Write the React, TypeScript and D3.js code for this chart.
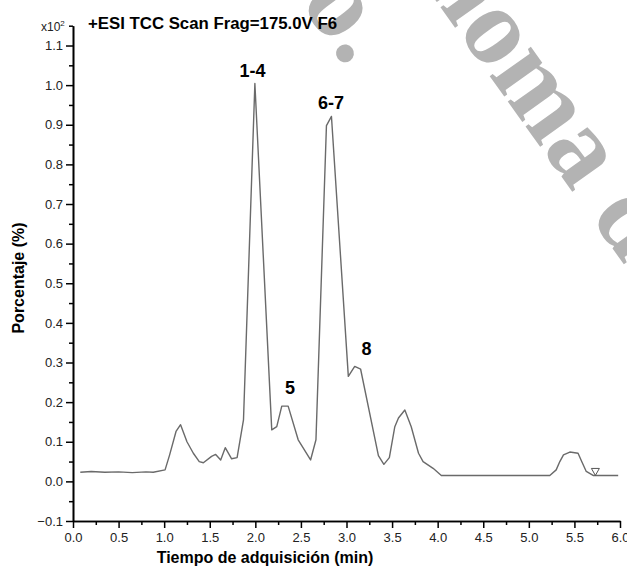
import React, { useRef, useEffect } from 'react';
import * as d3 from 'd3';

// chromatogram trace (time in min, intensity x10^2)
const times = [0.08, 0.2, 0.35, 0.5, 0.65, 0.8, 0.88, 1.01, 1.06, 1.13, 1.18, 1.25, 1.32, 1.385, 1.43, 1.52, 1.565, 1.62, 1.67, 1.74, 1.8, 1.87, 1.995, 2.18, 2.235, 2.29, 2.36, 2.47, 2.606, 2.665, 2.78, 2.835, 3.02, 3.09, 3.155, 3.35, 3.41, 3.47, 3.53, 3.57, 3.64, 3.71, 3.79, 3.84, 3.95, 4.04, 5.23, 5.3, 5.34, 5.38, 5.45, 5.54, 5.58, 5.63, 5.705, 5.98];
const values = [0.023, 0.025, 0.023, 0.024, 0.022, 0.024, 0.023, 0.029, 0.067, 0.126, 0.143, 0.1, 0.071, 0.05, 0.047, 0.063, 0.068, 0.054, 0.085, 0.057, 0.06, 0.155, 1.004, 0.13, 0.138, 0.19, 0.19, 0.105, 0.054, 0.105, 0.898, 0.921, 0.265, 0.29, 0.283, 0.065, 0.043, 0.06, 0.138, 0.16, 0.18, 0.138, 0.071, 0.05, 0.033, 0.015, 0.015, 0.029, 0.05, 0.067, 0.074, 0.071, 0.05, 0.025, 0.015, 0.015];

const peakLabels = ['1-4', '5', '6-7', '8'];
const peakTimes = [1.97, 2.38, 2.83, 3.22];
const peakValues = [1.02, 0.22, 0.94, 0.32];

const markerTime = 5.73;
const markerValue = 0.015;

const xMajor = d3.range(0, 6.01, 0.5);
const xMinor = d3.range(0.25, 6, 0.5);
const yMajor = d3.range(-0.1, 1.15, 0.1);
const yMinor = d3.range(-0.05, 1.2, 0.1);

const FONT = '"Liberation Sans", Arial, sans-serif';

const App: React.FC = () => {
  const svgRef = useRef<SVGSVGElement>(null);
  const width = 627;
  const height = 570;

  useEffect(() => {
    if (!svgRef.current) return;
    const svg = d3.select(svgRef.current);
    svg.selectAll('*').remove();

    const x = d3.scaleLinear().domain([0, 6]).range([73, 620]);
    const y = d3.scaleLinear().domain([-0.1, 1.15]).range([521, 25.7]);

    // watermark (behind everything)
    const wm = svg.append('g')
      .attr('fill', '#b3b3b3')
      .attr('font-family', '"Liberation Serif", "Times New Roman", serif')
      .attr('font-weight', 700)
      .attr('font-size', '110px');

    wm.append('text')
      .attr('transform', 'translate(347,69) rotate(54.5)')
      .attr('text-anchor', 'end')
      .text('o.');

    wm.append('text')
      .attr('transform', 'translate(456,29) rotate(54.5)')
      .attr('text-anchor', 'end')
      .text('Autón');

    wm.append('text')
      .attr('transform', 'translate(456,29) rotate(54.5)')
      .text('oma de');

    // trace
    const line = d3.line<number>()
      .x((d, i) => x(times[i]))
      .y(d => y(d));

    svg.append('path')
      .datum(values)
      .attr('d', line)
      .attr('fill', 'none')
      .attr('stroke', '#6a6a6a')
      .attr('stroke-width', 1.4)
      .attr('stroke-linejoin', 'round');

    // marker triangle
    const mx = x(markerTime);
    const my = y(markerValue);
    svg.append('path')
      .attr('d', `M${mx - 4},${my - 7}L${mx + 4},${my - 7}L${mx},${my}Z`)
      .attr('fill', 'none')
      .attr('stroke', '#555')
      .attr('stroke-width', 1);

    // axes
    const styleAxis = (g: d3.Selection<SVGGElement, unknown, null, undefined>) => {
      g.select('.domain').attr('stroke', '#000').attr('stroke-width', 1.6);
      g.selectAll('.tick line').attr('stroke', '#000').attr('stroke-width', 1.5);
      g.selectAll('.tick text')
        .attr('font-family', FONT)
        .attr('font-size', '13px')
        .attr('fill', '#222');
    };

    const yAxisMinor = svg.append('g')
      .attr('transform', `translate(${x(0)},0)`)
      .call(d3.axisLeft(y).tickValues(yMinor).tickSize(4).tickSizeOuter(0).tickFormat(() => ''));
    styleAxis(yAxisMinor);

    const yAxis = svg.append('g')
      .attr('transform', `translate(${x(0)},0)`)
      .call(d3.axisLeft(y).tickValues(yMajor).tickSize(7).tickSizeOuter(0).tickPadding(3).tickFormat(d3.format('.1f')));
    styleAxis(yAxis);

    const xAxisMinor = svg.append('g')
      .attr('transform', `translate(0,${y(-0.1)})`)
      .call(d3.axisBottom(x).tickValues(xMinor).tickSize(4).tickSizeOuter(0).tickFormat(() => ''));
    styleAxis(xAxisMinor);

    const xAxis = svg.append('g')
      .attr('transform', `translate(0,${y(-0.1)})`)
      .call(d3.axisBottom(x).tickValues(xMajor).tickSize(7).tickSizeOuter(0).tickPadding(5).tickFormat(d3.format('.1f')));
    styleAxis(xAxis);

    // axis titles
    svg.append('text')
      .attr('x', 265)
      .attr('y', 563)
      .attr('text-anchor', 'middle')
      .attr('font-family', FONT)
      .attr('font-weight', 700)
      .attr('font-size', '16px')
      .attr('fill', '#000')
      .text('Tiempo de adquisición (min)');

    svg.append('text')
      .attr('transform', 'translate(24,278) rotate(-90)')
      .attr('text-anchor', 'middle')
      .attr('font-family', FONT)
      .attr('font-weight', 700)
      .attr('font-size', '16px')
      .attr('fill', '#000')
      .text('Porcentaje (%)');

    // scale factor and title
    const mult = svg.append('text')
      .attr('x', 41)
      .attr('y', 31)
      .attr('font-family', FONT)
      .attr('font-size', '12px')
      .attr('fill', '#222');
    mult.append('tspan').text('x10');
    mult.append('tspan').attr('dy', -5).attr('font-size', '8px').text('2');

    svg.append('text')
      .attr('x', 88)
      .attr('y', 29)
      .attr('font-family', FONT)
      .attr('font-weight', 700)
      .attr('font-size', '16.8px')
      .attr('fill', '#000')
      .text('+ESI TCC Scan Frag=175.0V F6');

    // peak labels
    peakLabels.forEach((label, i) => {
      svg.append('text')
        .attr('x', x(peakTimes[i]))
        .attr('y', y(peakValues[i]))
        .attr('text-anchor', 'middle')
        .attr('font-family', FONT)
        .attr('font-weight', 700)
        .attr('font-size', '18px')
        .attr('fill', '#000')
        .text(label);
    });
  }, []);

  return (
    <svg
      ref={svgRef}
      width={width}
      height={height}
      style={{ position: 'absolute', left: 0, top: 0, background: '#fff' }}
    />
  );
};

export default App;
